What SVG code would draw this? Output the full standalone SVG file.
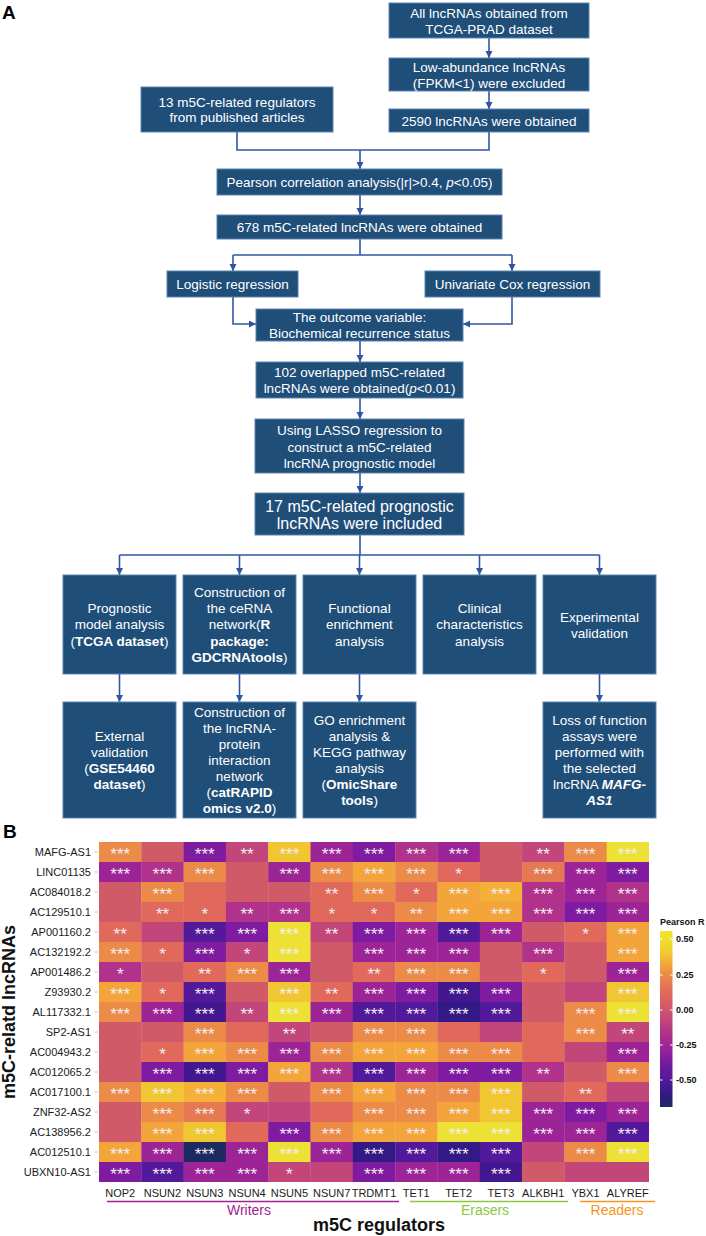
<svg xmlns="http://www.w3.org/2000/svg" width="706" height="1236" viewBox="0 0 706 1236">
<defs>
<marker id="ah" markerUnits="userSpaceOnUse" markerWidth="8" markerHeight="8" refX="7" refY="3.5" orient="auto">
<path d="M0,0 L7,3.5 L0,7 z" fill="#2F56A6"/>
</marker>
<linearGradient id="cbar" x1="0" y1="0" x2="0" y2="1">
<stop offset="0" stop-color="#EEE52C"/>
<stop offset="0.05" stop-color="#EEDE2E"/>
<stop offset="0.13" stop-color="#F1C633"/>
<stop offset="0.19" stop-color="#F3A53B"/>
<stop offset="0.25" stop-color="#EC8A48"/>
<stop offset="0.35" stop-color="#E0695C"/>
<stop offset="0.43" stop-color="#D15A68"/>
<stop offset="0.51" stop-color="#C2467A"/>
<stop offset="0.58" stop-color="#B0328B"/>
<stop offset="0.66" stop-color="#9D2497"/>
<stop offset="0.73" stop-color="#7E1BA0"/>
<stop offset="0.84" stop-color="#521A9A"/>
<stop offset="0.93" stop-color="#321985"/>
<stop offset="1" stop-color="#1D2A62"/>
</linearGradient>
</defs>
<style>
.bx{fill:#1F4E79;stroke:#5C83B5;stroke-width:1}
.t{fill:#fff;font-family:"Liberation Sans",Arial,sans-serif;font-size:13.5px;text-anchor:middle}
.big{font-size:16px}
.b{font-weight:bold}
.i{font-style:italic}
.cn{fill:none;stroke:#2F56A6;stroke-width:1.6}
.pl{font-family:"Liberation Sans",Arial,sans-serif;font-weight:bold;font-size:19px;fill:#000}
.rl{font-family:"Liberation Sans",Arial,sans-serif;font-size:11px;fill:#1a1a1a;text-anchor:end}
.cl{font-family:"Liberation Sans",Arial,sans-serif;font-size:11px;fill:#1a1a1a;text-anchor:middle}
.st{font-family:"Liberation Sans",Arial,sans-serif;font-size:17px;fill:#F4EEF2;text-anchor:middle}
.ax{font-family:"Liberation Sans",Arial,sans-serif;font-weight:bold;font-size:18px;fill:#111;text-anchor:middle}
.grp{font-family:"Liberation Sans",Arial,sans-serif;font-size:14px;text-anchor:middle}
.lg{font-family:"Liberation Sans",Arial,sans-serif;font-weight:bold;font-size:9px;fill:#111}
.Y{fill:#EEE136}.Y2{fill:#F1C633}.G{fill:#F4B037}.O{fill:#F3A53B}.O2{fill:#EC8A48}.SO{fill:#E57A52}.S{fill:#E0695C}
.P0{fill:#D15A68}.P1{fill:#C2467A}.M{fill:#B0328B}.M2{fill:#9D2497}.V{fill:#7E1BA0}.D{fill:#521A9A}.DN{fill:#421790}.N{fill:#321985}.NN{fill:#1D2A62}
</style>
<rect width="706" height="1236" fill="#fff"/>
<text class="pl" x="2" y="19">A</text>
<text class="pl" x="3" y="838">B</text>

<g id="connectors">
<line class="cn" x1="489" y1="38" x2="489" y2="58" marker-end="url(#ah)"/>
<line class="cn" x1="489" y1="91" x2="489" y2="109" marker-end="url(#ah)"/>
<polyline class="cn" points="237,132 237,150 489,150 489,132"/>
<line class="cn" x1="360" y1="150" x2="360" y2="169" marker-end="url(#ah)"/>
<line class="cn" x1="360" y1="195" x2="360" y2="215" marker-end="url(#ah)"/>
<line class="cn" x1="360" y1="239" x2="360" y2="255"/>
<line class="cn" x1="233" y1="255" x2="512" y2="255"/>
<line class="cn" x1="233" y1="255" x2="233" y2="271" marker-end="url(#ah)"/>
<line class="cn" x1="512" y1="255" x2="512" y2="271" marker-end="url(#ah)"/>
<polyline class="cn" points="233,297 233,324 256,324" marker-end="url(#ah)"/>
<polyline class="cn" points="512,297 512,324 463,324" marker-end="url(#ah)"/>
<line class="cn" x1="360" y1="341" x2="360" y2="362" marker-end="url(#ah)"/>
<line class="cn" x1="360" y1="398" x2="360" y2="419" marker-end="url(#ah)"/>
<line class="cn" x1="360" y1="473" x2="360" y2="493" marker-end="url(#ah)"/>
<line class="cn" x1="360" y1="535" x2="360" y2="555"/>
<line class="cn" x1="119.5" y1="555" x2="599.5" y2="555"/>
<line class="cn" x1="119.5" y1="555" x2="119.5" y2="575" marker-end="url(#ah)"/>
<line class="cn" x1="239.5" y1="555" x2="239.5" y2="575" marker-end="url(#ah)"/>
<line class="cn" x1="359.5" y1="555" x2="359.5" y2="575" marker-end="url(#ah)"/>
<line class="cn" x1="479.5" y1="555" x2="479.5" y2="575" marker-end="url(#ah)"/>
<line class="cn" x1="599.5" y1="555" x2="599.5" y2="575" marker-end="url(#ah)"/>
<line class="cn" x1="119.5" y1="674" x2="119.5" y2="702" marker-end="url(#ah)"/>
<line class="cn" x1="239.5" y1="674" x2="239.5" y2="702" marker-end="url(#ah)"/>
<line class="cn" x1="359.5" y1="674" x2="359.5" y2="702" marker-end="url(#ah)"/>
<line class="cn" x1="599.5" y1="674" x2="599.5" y2="702" marker-end="url(#ah)"/>
</g>

<g id="n-all"><rect class="bx" x="389" y="3" width="200" height="35"/>
<text class="t" x="489" y="18">All lncRNAs obtained from</text><text class="t" x="489" y="34">TCGA-PRAD dataset</text></g>
<g id="n-low"><rect class="bx" x="389" y="58" width="200" height="33"/>
<text class="t" x="489" y="72">Low-abundance lncRNAs</text><text class="t" x="489" y="88">(FPKM&lt;1) were excluded</text></g>
<g id="n-2590"><rect class="bx" x="389" y="109" width="200" height="23"/>
<text class="t" x="489" y="126">2590 lncRNAs were obtained</text></g>
<g id="n-13"><rect class="bx" x="141" y="87" width="192" height="45"/>
<text class="t" x="237" y="107">13 m5C-related regulators</text><text class="t" x="237" y="122">from published articles</text></g>
<g id="n-pearson"><rect class="bx" x="217" y="169" width="285" height="26"/>
<text class="t" x="359.5" y="187">Pearson correlation analysis(|r|&gt;0.4, <tspan class="i">p</tspan>&lt;0.05)</text></g>
<g id="n-678"><rect class="bx" x="217" y="215" width="285" height="24"/>
<text class="t" x="359.5" y="232">678 m5C-related lncRNAs were obtained</text></g>
<g id="n-logistic"><rect class="bx" x="167" y="271" width="131" height="26"/>
<text class="t" x="232.5" y="289">Logistic regression</text></g>
<g id="n-cox"><rect class="bx" x="425" y="271" width="175" height="26"/>
<text class="t" x="512.5" y="289">Univariate Cox regression</text></g>
<g id="n-outcome"><rect class="bx" x="256" y="309" width="207" height="32"/>
<text class="t" x="359.5" y="322">The outcome variable:</text><text class="t" x="359.5" y="338">Biochemical recurrence status</text></g>
<g id="n-102"><rect class="bx" x="256" y="362" width="207" height="36"/>
<text class="t" x="359.5" y="377">102 overlapped m5C-related</text><text class="t" x="359.5" y="393">lncRNAs were obtained(<tspan class="i">p</tspan>&lt;0.01)</text></g>
<g id="n-lasso"><rect class="bx" x="255" y="419" width="209" height="54"/>
<text class="t" x="359.5" y="435">Using LASSO regression to</text><text class="t" x="359.5" y="452">construct a m5C-related</text><text class="t" x="359.5" y="468">lncRNA prognostic model</text></g>
<g id="n-17"><rect class="bx" x="255" y="493" width="209" height="42"/>
<text class="t big" x="359.5" y="512">17 m5C-related prognostic</text><text class="t big" x="359.5" y="529">lncRNAs were included</text></g>

<g id="n-prog"><rect class="bx" x="63" y="575" width="113" height="99"/>
<text class="t" x="119.5" y="613">Prognostic</text><text class="t" x="119.5" y="629">model analysis</text><text class="t" x="119.5" y="646">(<tspan class="b">TCGA dataset</tspan>)</text></g>
<g id="n-cerna"><rect class="bx" x="183" y="575" width="113" height="99"/>
<text class="t" x="239.5" y="597">Construction of</text><text class="t" x="239.5" y="613">the ceRNA</text><text class="t" x="239.5" y="629">network(<tspan class="b">R</tspan></text><text class="t b" x="239.5" y="646">package:</text><text class="t" x="239.5" y="662"><tspan class="b">GDCRNAtools</tspan>)</text></g>
<g id="n-func"><rect class="bx" x="303" y="575" width="113" height="99"/>
<text class="t" x="359.5" y="613">Functional</text><text class="t" x="359.5" y="629">enrichment</text><text class="t" x="359.5" y="646">analysis</text></g>
<g id="n-clin"><rect class="bx" x="423" y="575" width="113" height="99"/>
<text class="t" x="479.5" y="613">Clinical</text><text class="t" x="479.5" y="629">characteristics</text><text class="t" x="479.5" y="646">analysis</text></g>
<g id="n-exp"><rect class="bx" x="543" y="575" width="113" height="99"/>
<text class="t" x="599.5" y="622">Experimental</text><text class="t" x="599.5" y="638">validation</text></g>

<g id="n-ext"><rect class="bx" x="63" y="702" width="113" height="116"/>
<text class="t" x="119.5" y="741">External</text><text class="t" x="119.5" y="757">validation</text><text class="t" x="119.5" y="773">(<tspan class="b">GSE54460</tspan></text><text class="t" x="119.5" y="789"><tspan class="b">dataset</tspan>)</text></g>
<g id="n-ppi"><rect class="bx" x="183" y="702" width="113" height="116"/>
<text class="t" x="239.5" y="717">Construction of</text><text class="t" x="239.5" y="733">the lncRNA-</text><text class="t" x="239.5" y="749">protein</text><text class="t" x="239.5" y="765">interaction</text><text class="t" x="239.5" y="781">network</text><text class="t" x="239.5" y="797">(<tspan class="b">catRAPID</tspan></text><text class="t" x="239.5" y="813"><tspan class="b">omics v2.0</tspan>)</text></g>
<g id="n-go"><rect class="bx" x="303" y="702" width="113" height="116"/>
<text class="t" x="359.5" y="725">GO enrichment</text><text class="t" x="359.5" y="741">analysis &amp;</text><text class="t" x="359.5" y="757">KEGG pathway</text><text class="t" x="359.5" y="773">analysis</text><text class="t" x="359.5" y="789">(<tspan class="b">OmicShare</tspan></text><text class="t" x="359.5" y="805"><tspan class="b">tools</tspan>)</text></g>
<g id="n-loss"><rect class="bx" x="543" y="702" width="113" height="116"/>
<text class="t" x="599.5" y="725">Loss of function</text><text class="t" x="599.5" y="741">assays were</text><text class="t" x="599.5" y="757">performed with</text><text class="t" x="599.5" y="773">the selected</text><text class="t" x="599.5" y="789">lncRNA <tspan class="b i">MAFG-</tspan></text><text class="t b i" x="599.5" y="805">AS1</text></g>

<g id="heatmap">
<g transform="translate(0,842)">
<rect class="O2" x="99" width="42.6" height="20.2"/><rect class="P0" x="141.3" width="42.6" height="20.2"/><rect class="V" x="183.6" width="42.6" height="20.2"/><rect class="P1" x="225.9" width="42.6" height="20.2"/><rect class="Y2" x="268.2" width="42.6" height="20.2"/><rect class="M2" x="310.5" width="42.6" height="20.2"/><rect class="V" x="352.8" width="42.6" height="20.2"/><rect class="M" x="395.2" width="42.6" height="20.2"/><rect class="M2" x="437.5" width="42.6" height="20.2"/><rect class="P0" x="479.8" width="42.6" height="20.2"/><rect class="P1" x="522.1" width="42.6" height="20.2"/><rect class="O2" x="564.4" width="42.6" height="20.2"/><rect class="Y" x="606.7" width="42.3" height="20.2"/>
<text class="st" x="120.2" y="18">***</text><text class="st" x="204.8" y="18">***</text><text class="st" x="247.1" y="18">**</text><text class="st" x="289.4" y="18">***</text><text class="st" x="331.7" y="18">***</text><text class="st" x="374" y="18">***</text><text class="st" x="416.3" y="18">***</text><text class="st" x="458.6" y="18">***</text><text class="st" x="543.2" y="18">**</text><text class="st" x="585.5" y="18">***</text><text class="st" x="627.8" y="18">***</text>
</g>
<g transform="translate(0,862)">
<rect class="M2" x="99" width="42.6" height="20.2"/><rect class="M" x="141.3" width="42.6" height="20.2"/><rect class="O2" x="183.6" width="42.6" height="20.2"/><rect class="P0" x="225.9" width="42.6" height="20.2"/><rect class="M2" x="268.2" width="42.6" height="20.2"/><rect class="O2" x="310.5" width="42.6" height="20.2"/><rect class="O" x="352.8" width="42.6" height="20.2"/><rect class="O2" x="395.2" width="42.6" height="20.2"/><rect class="S" x="437.5" width="42.6" height="20.2"/><rect class="P0" x="479.8" width="42.6" height="20.2"/><rect class="SO" x="522.1" width="42.6" height="20.2"/><rect class="M2" x="564.4" width="42.6" height="20.2"/><rect class="V" x="606.7" width="42.3" height="20.2"/>
<text class="st" x="120.2" y="18">***</text><text class="st" x="162.5" y="18">***</text><text class="st" x="204.8" y="18">***</text><text class="st" x="289.4" y="18">***</text><text class="st" x="331.7" y="18">***</text><text class="st" x="374" y="18">***</text><text class="st" x="416.3" y="18">***</text><text class="st" x="458.6" y="18">*</text><text class="st" x="543.2" y="18">***</text><text class="st" x="585.5" y="18">***</text><text class="st" x="627.8" y="18">***</text>
</g>
<g transform="translate(0,882)">
<rect class="P0" x="99" width="42.6" height="20.2"/><rect class="O2" x="141.3" width="42.6" height="20.2"/><rect class="S" x="183.6" width="42.6" height="20.2"/><rect class="P0" x="225.9" width="42.6" height="20.2"/><rect class="P0" x="268.2" width="42.6" height="20.2"/><rect class="S" x="310.5" width="42.6" height="20.2"/><rect class="O2" x="352.8" width="42.6" height="20.2"/><rect class="S" x="395.2" width="42.6" height="20.2"/><rect class="O" x="437.5" width="42.6" height="20.2"/><rect class="G" x="479.8" width="42.6" height="20.2"/><rect class="M" x="522.1" width="42.6" height="20.2"/><rect class="M2" x="564.4" width="42.6" height="20.2"/><rect class="M" x="606.7" width="42.3" height="20.2"/>
<text class="st" x="162.5" y="18">***</text><text class="st" x="331.7" y="18">**</text><text class="st" x="374" y="18">***</text><text class="st" x="416.3" y="18">*</text><text class="st" x="458.6" y="18">***</text><text class="st" x="500.9" y="18">***</text><text class="st" x="543.2" y="18">***</text><text class="st" x="585.5" y="18">***</text><text class="st" x="627.8" y="18">***</text>
</g>
<g transform="translate(0,902)">
<rect class="P0" x="99" width="42.6" height="20.2"/><rect class="S" x="141.3" width="42.6" height="20.2"/><rect class="S" x="183.6" width="42.6" height="20.2"/><rect class="M" x="225.9" width="42.6" height="20.2"/><rect class="M" x="268.2" width="42.6" height="20.2"/><rect class="S" x="310.5" width="42.6" height="20.2"/><rect class="S" x="352.8" width="42.6" height="20.2"/><rect class="O2" x="395.2" width="42.6" height="20.2"/><rect class="O" x="437.5" width="42.6" height="20.2"/><rect class="O" x="479.8" width="42.6" height="20.2"/><rect class="M" x="522.1" width="42.6" height="20.2"/><rect class="V" x="564.4" width="42.6" height="20.2"/><rect class="M2" x="606.7" width="42.3" height="20.2"/>
<text class="st" x="162.5" y="18">**</text><text class="st" x="204.8" y="18">*</text><text class="st" x="247.1" y="18">**</text><text class="st" x="289.4" y="18">***</text><text class="st" x="331.7" y="18">*</text><text class="st" x="374" y="18">*</text><text class="st" x="416.3" y="18">**</text><text class="st" x="458.6" y="18">***</text><text class="st" x="500.9" y="18">***</text><text class="st" x="543.2" y="18">***</text><text class="st" x="585.5" y="18">***</text><text class="st" x="627.8" y="18">***</text>
</g>
<g transform="translate(0,922)">
<rect class="S" x="99" width="42.6" height="20.2"/><rect class="P1" x="141.3" width="42.6" height="20.2"/><rect class="D" x="183.6" width="42.6" height="20.2"/><rect class="V" x="225.9" width="42.6" height="20.2"/><rect class="Y" x="268.2" width="42.6" height="20.2"/><rect class="P1" x="310.5" width="42.6" height="20.2"/><rect class="V" x="352.8" width="42.6" height="20.2"/><rect class="M2" x="395.2" width="42.6" height="20.2"/><rect class="D" x="437.5" width="42.6" height="20.2"/><rect class="M2" x="479.8" width="42.6" height="20.2"/><rect class="P0" x="522.1" width="42.6" height="20.2"/><rect class="S" x="564.4" width="42.6" height="20.2"/><rect class="O" x="606.7" width="42.3" height="20.2"/>
<text class="st" x="120.2" y="18">**</text><text class="st" x="204.8" y="18">***</text><text class="st" x="247.1" y="18">***</text><text class="st" x="289.4" y="18">***</text><text class="st" x="331.7" y="18">**</text><text class="st" x="374" y="18">***</text><text class="st" x="416.3" y="18">***</text><text class="st" x="458.6" y="18">***</text><text class="st" x="500.9" y="18">***</text><text class="st" x="585.5" y="18">*</text><text class="st" x="627.8" y="18">***</text>
</g>
<g transform="translate(0,942)">
<rect class="O2" x="99" width="42.6" height="20.2"/><rect class="S" x="141.3" width="42.6" height="20.2"/><rect class="V" x="183.6" width="42.6" height="20.2"/><rect class="P1" x="225.9" width="42.6" height="20.2"/><rect class="Y" x="268.2" width="42.6" height="20.2"/><rect class="P0" x="310.5" width="42.6" height="20.2"/><rect class="M2" x="352.8" width="42.6" height="20.2"/><rect class="M2" x="395.2" width="42.6" height="20.2"/><rect class="M2" x="437.5" width="42.6" height="20.2"/><rect class="P0" x="479.8" width="42.6" height="20.2"/><rect class="M" x="522.1" width="42.6" height="20.2"/><rect class="P0" x="564.4" width="42.6" height="20.2"/><rect class="O" x="606.7" width="42.3" height="20.2"/>
<text class="st" x="120.2" y="18">***</text><text class="st" x="162.5" y="18">*</text><text class="st" x="204.8" y="18">***</text><text class="st" x="247.1" y="18">*</text><text class="st" x="289.4" y="18">***</text><text class="st" x="374" y="18">***</text><text class="st" x="416.3" y="18">***</text><text class="st" x="458.6" y="18">***</text><text class="st" x="543.2" y="18">***</text><text class="st" x="627.8" y="18">***</text>
</g>
<g transform="translate(0,962)">
<rect class="M" x="99" width="42.6" height="20.2"/><rect class="P0" x="141.3" width="42.6" height="20.2"/><rect class="S" x="183.6" width="42.6" height="20.2"/><rect class="O2" x="225.9" width="42.6" height="20.2"/><rect class="M2" x="268.2" width="42.6" height="20.2"/><rect class="P0" x="310.5" width="42.6" height="20.2"/><rect class="S" x="352.8" width="42.6" height="20.2"/><rect class="O2" x="395.2" width="42.6" height="20.2"/><rect class="O2" x="437.5" width="42.6" height="20.2"/><rect class="P0" x="479.8" width="42.6" height="20.2"/><rect class="S" x="522.1" width="42.6" height="20.2"/><rect class="P0" x="564.4" width="42.6" height="20.2"/><rect class="M2" x="606.7" width="42.3" height="20.2"/>
<text class="st" x="120.2" y="18">*</text><text class="st" x="204.8" y="18">**</text><text class="st" x="247.1" y="18">***</text><text class="st" x="289.4" y="18">***</text><text class="st" x="374" y="18">**</text><text class="st" x="416.3" y="18">***</text><text class="st" x="458.6" y="18">***</text><text class="st" x="543.2" y="18">*</text><text class="st" x="627.8" y="18">***</text>
</g>
<g transform="translate(0,982)">
<rect class="O" x="99" width="42.6" height="20.2"/><rect class="S" x="141.3" width="42.6" height="20.2"/><rect class="D" x="183.6" width="42.6" height="20.2"/><rect class="P0" x="225.9" width="42.6" height="20.2"/><rect class="Y2" x="268.2" width="42.6" height="20.2"/><rect class="S" x="310.5" width="42.6" height="20.2"/><rect class="M2" x="352.8" width="42.6" height="20.2"/><rect class="V" x="395.2" width="42.6" height="20.2"/><rect class="DN" x="437.5" width="42.6" height="20.2"/><rect class="V" x="479.8" width="42.6" height="20.2"/><rect class="P0" x="522.1" width="42.6" height="20.2"/><rect class="P1" x="564.4" width="42.6" height="20.2"/><rect class="Y2" x="606.7" width="42.3" height="20.2"/>
<text class="st" x="120.2" y="18">***</text><text class="st" x="162.5" y="18">*</text><text class="st" x="204.8" y="18">***</text><text class="st" x="289.4" y="18">***</text><text class="st" x="331.7" y="18">**</text><text class="st" x="374" y="18">***</text><text class="st" x="416.3" y="18">***</text><text class="st" x="458.6" y="18">***</text><text class="st" x="500.9" y="18">***</text><text class="st" x="627.8" y="18">***</text>
</g>
<g transform="translate(0,1002)">
<rect class="O2" x="99" width="42.6" height="20.2"/><rect class="M2" x="141.3" width="42.6" height="20.2"/><rect class="DN" x="183.6" width="42.6" height="20.2"/><rect class="P1" x="225.9" width="42.6" height="20.2"/><rect class="Y" x="268.2" width="42.6" height="20.2"/><rect class="M2" x="310.5" width="42.6" height="20.2"/><rect class="D" x="352.8" width="42.6" height="20.2"/><rect class="D" x="395.2" width="42.6" height="20.2"/><rect class="N" x="437.5" width="42.6" height="20.2"/><rect class="D" x="479.8" width="42.6" height="20.2"/><rect class="P0" x="522.1" width="42.6" height="20.2"/><rect class="O2" x="564.4" width="42.6" height="20.2"/><rect class="Y" x="606.7" width="42.3" height="20.2"/>
<text class="st" x="120.2" y="18">***</text><text class="st" x="162.5" y="18">***</text><text class="st" x="204.8" y="18">***</text><text class="st" x="247.1" y="18">**</text><text class="st" x="289.4" y="18">***</text><text class="st" x="331.7" y="18">***</text><text class="st" x="374" y="18">***</text><text class="st" x="416.3" y="18">***</text><text class="st" x="458.6" y="18">***</text><text class="st" x="500.9" y="18">***</text><text class="st" x="585.5" y="18">***</text><text class="st" x="627.8" y="18">***</text>
</g>
<g transform="translate(0,1022)">
<rect class="P0" x="99" width="42.6" height="20.2"/><rect class="P0" x="141.3" width="42.6" height="20.2"/><rect class="O2" x="183.6" width="42.6" height="20.2"/><rect class="S" x="225.9" width="42.6" height="20.2"/><rect class="P1" x="268.2" width="42.6" height="20.2"/><rect class="P0" x="310.5" width="42.6" height="20.2"/><rect class="O2" x="352.8" width="42.6" height="20.2"/><rect class="O2" x="395.2" width="42.6" height="20.2"/><rect class="S" x="437.5" width="42.6" height="20.2"/><rect class="P1" x="479.8" width="42.6" height="20.2"/><rect class="S" x="522.1" width="42.6" height="20.2"/><rect class="O2" x="564.4" width="42.6" height="20.2"/><rect class="P1" x="606.7" width="42.3" height="20.2"/>
<text class="st" x="204.8" y="18">***</text><text class="st" x="289.4" y="18">**</text><text class="st" x="374" y="18">***</text><text class="st" x="416.3" y="18">***</text><text class="st" x="585.5" y="18">***</text><text class="st" x="627.8" y="18">**</text>
</g>
<g transform="translate(0,1042)">
<rect class="P0" x="99" width="42.6" height="20.2"/><rect class="S" x="141.3" width="42.6" height="20.2"/><rect class="O" x="183.6" width="42.6" height="20.2"/><rect class="O2" x="225.9" width="42.6" height="20.2"/><rect class="M2" x="268.2" width="42.6" height="20.2"/><rect class="O2" x="310.5" width="42.6" height="20.2"/><rect class="O" x="352.8" width="42.6" height="20.2"/><rect class="O" x="395.2" width="42.6" height="20.2"/><rect class="O2" x="437.5" width="42.6" height="20.2"/><rect class="O2" x="479.8" width="42.6" height="20.2"/><rect class="S" x="522.1" width="42.6" height="20.2"/><rect class="P1" x="564.4" width="42.6" height="20.2"/><rect class="M2" x="606.7" width="42.3" height="20.2"/>
<text class="st" x="162.5" y="18">*</text><text class="st" x="204.8" y="18">***</text><text class="st" x="247.1" y="18">***</text><text class="st" x="289.4" y="18">***</text><text class="st" x="331.7" y="18">***</text><text class="st" x="374" y="18">***</text><text class="st" x="416.3" y="18">***</text><text class="st" x="458.6" y="18">***</text><text class="st" x="500.9" y="18">***</text><text class="st" x="627.8" y="18">***</text>
</g>
<g transform="translate(0,1062)">
<rect class="P0" x="99" width="42.6" height="20.2"/><rect class="V" x="141.3" width="42.6" height="20.2"/><rect class="DN" x="183.6" width="42.6" height="20.2"/><rect class="V" x="225.9" width="42.6" height="20.2"/><rect class="O" x="268.2" width="42.6" height="20.2"/><rect class="M" x="310.5" width="42.6" height="20.2"/><rect class="D" x="352.8" width="42.6" height="20.2"/><rect class="M2" x="395.2" width="42.6" height="20.2"/><rect class="V" x="437.5" width="42.6" height="20.2"/><rect class="V" x="479.8" width="42.6" height="20.2"/><rect class="M" x="522.1" width="42.6" height="20.2"/><rect class="P0" x="564.4" width="42.6" height="20.2"/><rect class="O2" x="606.7" width="42.3" height="20.2"/>
<text class="st" x="162.5" y="18">***</text><text class="st" x="204.8" y="18">***</text><text class="st" x="247.1" y="18">***</text><text class="st" x="289.4" y="18">***</text><text class="st" x="331.7" y="18">***</text><text class="st" x="374" y="18">***</text><text class="st" x="416.3" y="18">***</text><text class="st" x="458.6" y="18">***</text><text class="st" x="500.9" y="18">***</text><text class="st" x="543.2" y="18">**</text><text class="st" x="627.8" y="18">***</text>
</g>
<g transform="translate(0,1082)">
<rect class="O2" x="99" width="42.6" height="20.2"/><rect class="Y2" x="141.3" width="42.6" height="20.2"/><rect class="G" x="183.6" width="42.6" height="20.2"/><rect class="O2" x="225.9" width="42.6" height="20.2"/><rect class="P0" x="268.2" width="42.6" height="20.2"/><rect class="O2" x="310.5" width="42.6" height="20.2"/><rect class="O" x="352.8" width="42.6" height="20.2"/><rect class="O2" x="395.2" width="42.6" height="20.2"/><rect class="O2" x="437.5" width="42.6" height="20.2"/><rect class="Y2" x="479.8" width="42.6" height="20.2"/><rect class="P0" x="522.1" width="42.6" height="20.2"/><rect class="S" x="564.4" width="42.6" height="20.2"/><rect class="P1" x="606.7" width="42.3" height="20.2"/>
<text class="st" x="120.2" y="18">***</text><text class="st" x="162.5" y="18">***</text><text class="st" x="204.8" y="18">***</text><text class="st" x="247.1" y="18">***</text><text class="st" x="331.7" y="18">***</text><text class="st" x="374" y="18">***</text><text class="st" x="416.3" y="18">***</text><text class="st" x="458.6" y="18">***</text><text class="st" x="500.9" y="18">***</text><text class="st" x="585.5" y="18">**</text>
</g>
<g transform="translate(0,1102)">
<rect class="P0" x="99" width="42.6" height="20.2"/><rect class="O2" x="141.3" width="42.6" height="20.2"/><rect class="SO" x="183.6" width="42.6" height="20.2"/><rect class="P1" x="225.9" width="42.6" height="20.2"/><rect class="P1" x="268.2" width="42.6" height="20.2"/><rect class="S" x="310.5" width="42.6" height="20.2"/><rect class="O2" x="352.8" width="42.6" height="20.2"/><rect class="O2" x="395.2" width="42.6" height="20.2"/><rect class="O" x="437.5" width="42.6" height="20.2"/><rect class="Y2" x="479.8" width="42.6" height="20.2"/><rect class="M2" x="522.1" width="42.6" height="20.2"/><rect class="V" x="564.4" width="42.6" height="20.2"/><rect class="M2" x="606.7" width="42.3" height="20.2"/>
<text class="st" x="162.5" y="18">***</text><text class="st" x="204.8" y="18">***</text><text class="st" x="247.1" y="18">*</text><text class="st" x="374" y="18">***</text><text class="st" x="416.3" y="18">***</text><text class="st" x="458.6" y="18">***</text><text class="st" x="500.9" y="18">***</text><text class="st" x="543.2" y="18">***</text><text class="st" x="585.5" y="18">***</text><text class="st" x="627.8" y="18">***</text>
</g>
<g transform="translate(0,1122)">
<rect class="P0" x="99" width="42.6" height="20.2"/><rect class="O" x="141.3" width="42.6" height="20.2"/><rect class="Y2" x="183.6" width="42.6" height="20.2"/><rect class="S" x="225.9" width="42.6" height="20.2"/><rect class="V" x="268.2" width="42.6" height="20.2"/><rect class="O2" x="310.5" width="42.6" height="20.2"/><rect class="O" x="352.8" width="42.6" height="20.2"/><rect class="O" x="395.2" width="42.6" height="20.2"/><rect class="Y" x="437.5" width="42.6" height="20.2"/><rect class="Y" x="479.8" width="42.6" height="20.2"/><rect class="M2" x="522.1" width="42.6" height="20.2"/><rect class="M2" x="564.4" width="42.6" height="20.2"/><rect class="D" x="606.7" width="42.3" height="20.2"/>
<text class="st" x="162.5" y="18">***</text><text class="st" x="204.8" y="18">***</text><text class="st" x="289.4" y="18">***</text><text class="st" x="331.7" y="18">***</text><text class="st" x="374" y="18">***</text><text class="st" x="416.3" y="18">***</text><text class="st" x="458.6" y="18">***</text><text class="st" x="500.9" y="18">***</text><text class="st" x="543.2" y="18">***</text><text class="st" x="585.5" y="18">***</text><text class="st" x="627.8" y="18">***</text>
</g>
<g transform="translate(0,1142)">
<rect class="O" x="99" width="42.6" height="20.2"/><rect class="M2" x="141.3" width="42.6" height="20.2"/><rect class="NN" x="183.6" width="42.6" height="20.2"/><rect class="M2" x="225.9" width="42.6" height="20.2"/><rect class="Y" x="268.2" width="42.6" height="20.2"/><rect class="M2" x="310.5" width="42.6" height="20.2"/><rect class="N" x="352.8" width="42.6" height="20.2"/><rect class="D" x="395.2" width="42.6" height="20.2"/><rect class="N" x="437.5" width="42.6" height="20.2"/><rect class="D" x="479.8" width="42.6" height="20.2"/><rect class="P1" x="522.1" width="42.6" height="20.2"/><rect class="O2" x="564.4" width="42.6" height="20.2"/><rect class="Y" x="606.7" width="42.3" height="20.2"/>
<text class="st" x="120.2" y="18">***</text><text class="st" x="162.5" y="18">***</text><text class="st" x="204.8" y="18">***</text><text class="st" x="247.1" y="18">***</text><text class="st" x="289.4" y="18">***</text><text class="st" x="331.7" y="18">***</text><text class="st" x="374" y="18">***</text><text class="st" x="416.3" y="18">***</text><text class="st" x="458.6" y="18">***</text><text class="st" x="500.9" y="18">***</text><text class="st" x="585.5" y="18">***</text><text class="st" x="627.8" y="18">***</text>
</g>
<g transform="translate(0,1162)">
<rect class="V" x="99" width="42.6" height="20"/><rect class="D" x="141.3" width="42.6" height="20"/><rect class="M2" x="183.6" width="42.6" height="20"/><rect class="M2" x="225.9" width="42.6" height="20"/><rect class="P1" x="268.2" width="42.6" height="20"/><rect class="P1" x="310.5" width="42.6" height="20"/><rect class="V" x="352.8" width="42.6" height="20"/><rect class="M2" x="395.2" width="42.6" height="20"/><rect class="M2" x="437.5" width="42.6" height="20"/><rect class="DN" x="479.8" width="42.6" height="20"/><rect class="P0" x="522.1" width="42.6" height="20"/><rect class="P1" x="564.4" width="42.6" height="20"/><rect class="P1" x="606.7" width="42.3" height="20"/>
<text class="st" x="120.2" y="18">***</text><text class="st" x="162.5" y="18">***</text><text class="st" x="204.8" y="18">***</text><text class="st" x="247.1" y="18">***</text><text class="st" x="289.4" y="18">*</text><text class="st" x="374" y="18">***</text><text class="st" x="416.3" y="18">***</text><text class="st" x="458.6" y="18">***</text><text class="st" x="500.9" y="18">***</text>
</g>
<g stroke="#c8c8c8" stroke-width="1">
<line x1="94.5" y1="852" x2="98" y2="852"/><line x1="94.5" y1="872" x2="98" y2="872"/><line x1="94.5" y1="892" x2="98" y2="892"/><line x1="94.5" y1="912" x2="98" y2="912"/><line x1="94.5" y1="932" x2="98" y2="932"/><line x1="94.5" y1="952" x2="98" y2="952"/><line x1="94.5" y1="972" x2="98" y2="972"/><line x1="94.5" y1="992" x2="98" y2="992"/><line x1="94.5" y1="1012" x2="98" y2="1012"/><line x1="94.5" y1="1032" x2="98" y2="1032"/><line x1="94.5" y1="1052" x2="98" y2="1052"/><line x1="94.5" y1="1072" x2="98" y2="1072"/><line x1="94.5" y1="1092" x2="98" y2="1092"/><line x1="94.5" y1="1112" x2="98" y2="1112"/><line x1="94.5" y1="1132" x2="98" y2="1132"/><line x1="94.5" y1="1152" x2="98" y2="1152"/><line x1="94.5" y1="1172" x2="98" y2="1172"/>
</g>
<g>
<text class="rl" x="91" y="856">MAFG-AS1</text><text class="rl" x="91" y="876">LINC01135</text><text class="rl" x="91" y="896">AC084018.2</text><text class="rl" x="91" y="916">AC129510.1</text><text class="rl" x="91" y="936">AP001160.2</text><text class="rl" x="91" y="956">AC132192.2</text><text class="rl" x="91" y="976">AP001486.2</text><text class="rl" x="91" y="996">Z93930.2</text><text class="rl" x="91" y="1016">AL117332.1</text><text class="rl" x="91" y="1036">SP2-AS1</text><text class="rl" x="91" y="1056">AC004943.2</text><text class="rl" x="91" y="1076">AC012065.2</text><text class="rl" x="91" y="1096">AC017100.1</text><text class="rl" x="91" y="1116">ZNF32-AS2</text><text class="rl" x="91" y="1136">AC138956.2</text><text class="rl" x="91" y="1156">AC012510.1</text><text class="rl" x="91" y="1176">UBXN10-AS1</text>
</g>
<g>
<text class="cl" x="120.2" y="1197">NOP2</text><text class="cl" x="162.5" y="1197">NSUN2</text><text class="cl" x="204.8" y="1197">NSUN3</text><text class="cl" x="247.1" y="1197">NSUN4</text><text class="cl" x="289.4" y="1197">NSUN5</text><text class="cl" x="331.7" y="1197">NSUN7</text><text class="cl" x="374" y="1197">TRDMT1</text><text class="cl" x="416.3" y="1197">TET1</text><text class="cl" x="458.6" y="1197">TET2</text><text class="cl" x="500.9" y="1197">TET3</text><text class="cl" x="543.2" y="1197">ALKBH1</text><text class="cl" x="585.5" y="1197">YBX1</text><text class="cl" x="627.8" y="1197">ALYREF</text>
</g>
<line x1="107" y1="1201.5" x2="399" y2="1201.5" stroke="#A3238E" stroke-width="1.6"/>
<line x1="410" y1="1201.5" x2="568" y2="1201.5" stroke="#8CC63F" stroke-width="1.6"/>
<line x1="580" y1="1201.5" x2="655" y2="1201.5" stroke="#F7941D" stroke-width="1.6"/>
<text class="grp" x="249" y="1215" fill="#A3238E">Writers</text>
<text class="grp" x="485" y="1215" fill="#8CC63F">Erasers</text>
<text class="grp" x="617" y="1215" fill="#F7941D">Readers</text>
<text class="ax" x="379" y="1231">m5C regulators</text>
<text class="ax" transform="translate(15,1012) rotate(-90)">m5C-relatd lncRNAs</text>
</g>

<g id="legend">
<text class="lg" x="660" y="925">Pearson R</text>
<rect x="660" y="931" width="12.5" height="176" fill="url(#cbar)"/>
<g stroke="#fff" stroke-width="1">
<line x1="660" y1="939" x2="662.5" y2="939"/><line x1="670" y1="939" x2="672.5" y2="939"/>
<line x1="660" y1="975" x2="662.5" y2="975"/><line x1="670" y1="975" x2="672.5" y2="975"/>
<line x1="660" y1="1010" x2="662.5" y2="1010"/><line x1="670" y1="1010" x2="672.5" y2="1010"/>
<line x1="660" y1="1045" x2="662.5" y2="1045"/><line x1="670" y1="1045" x2="672.5" y2="1045"/>
<line x1="660" y1="1080" x2="662.5" y2="1080"/><line x1="670" y1="1080" x2="672.5" y2="1080"/>
</g>
<text class="lg" x="676" y="942">0.50</text>
<text class="lg" x="676" y="978">0.25</text>
<text class="lg" x="676" y="1013">0.00</text>
<text class="lg" x="676" y="1048">-0.25</text>
<text class="lg" x="676" y="1083">-0.50</text>
</g>
</svg>
